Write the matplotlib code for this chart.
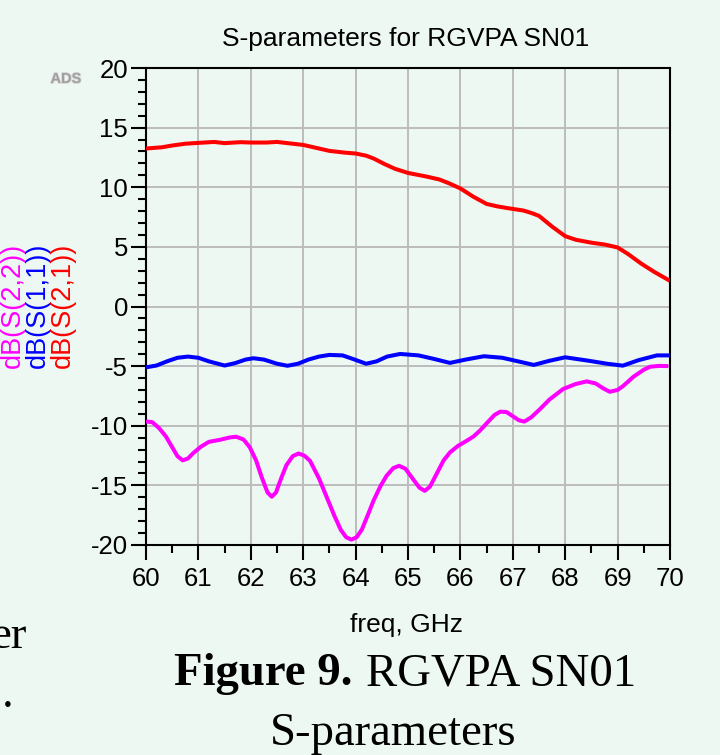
import matplotlib
matplotlib.use("Agg")
import matplotlib.pyplot as plt
from matplotlib.ticker import MultipleLocator
import matplotlib.patheffects as pe

plt.rcParams['axes.unicode_minus'] = False
plt.rcParams['font.family'] = ['Liberation Sans', 'DejaVu Sans']

# ---- data ----
f_s21 = [60.0, 60.3, 60.5, 60.75, 61.0, 61.3, 61.5, 61.8, 62.0, 62.3, 62.5, 62.8, 63.0, 63.2,
         63.5, 63.8, 64.0, 64.2, 64.35, 64.55, 64.75, 65.0, 65.35, 65.6, 65.8, 66.0, 66.25,
         66.5, 66.7, 66.9, 67.2, 67.35, 67.5, 67.75, 68.0, 68.2, 68.5, 68.75, 69.0, 69.2,
         69.45, 69.7, 70.0]
s21 = [13.25, 13.35, 13.5, 13.65, 13.72, 13.8, 13.7, 13.78, 13.75, 13.75, 13.8, 13.65, 13.55,
       13.35, 13.05, 12.9, 12.83, 12.65, 12.4, 11.95, 11.55, 11.2, 10.9, 10.65, 10.3, 9.9, 9.2,
       8.6, 8.4, 8.25, 8.05, 7.85, 7.6, 6.7, 5.9, 5.6, 5.35, 5.2, 4.95, 4.4,
       3.6, 2.9, 2.15]

f_s11 = [60.0, 60.2, 60.4, 60.6, 60.8, 61.0, 61.2, 61.5, 61.7, 61.9, 62.05, 62.25, 62.5, 62.7,
         62.9, 63.1, 63.3, 63.5, 63.75, 63.95, 64.2, 64.4, 64.6, 64.85, 65.2, 65.5, 65.8, 66.1,
         66.45, 66.8, 67.1, 67.4, 67.7, 68.0, 68.45, 68.8, 69.1, 69.4, 69.75, 70.0]
s11 = [-5.1, -4.95, -4.6, -4.3, -4.2, -4.3, -4.6, -4.95, -4.75, -4.45, -4.34, -4.45, -4.8, -4.97,
       -4.8, -4.45, -4.2, -4.06, -4.1, -4.4, -4.8, -4.6, -4.2, -3.98, -4.1, -4.4, -4.73, -4.45,
       -4.17, -4.3, -4.6, -4.9, -4.55, -4.26, -4.55, -4.8, -4.96, -4.5, -4.1, -4.1]

f_s22 = [60.0, 60.12, 60.25, 60.38, 60.5, 60.6, 60.7, 60.8, 60.9, 61.05, 61.2, 61.41, 61.6, 61.72,
         61.86, 61.98, 62.1, 62.21, 62.32, 62.4, 62.48, 62.58, 62.68, 62.8, 62.91, 63.02, 63.13,
         63.3, 63.45, 63.6, 63.72, 63.82, 63.92, 64.02, 64.12, 64.25, 64.34, 64.47, 64.59, 64.72,
         64.83, 64.95, 65.1, 65.22, 65.32, 65.42, 65.55, 65.68, 65.8, 65.95, 66.12, 66.25, 66.37,
         66.5, 66.65, 66.76, 66.88, 67.0, 67.12, 67.22, 67.35, 67.52, 67.7, 67.96, 68.2, 68.41,
         68.58, 68.72, 68.85, 69.0, 69.11, 69.3, 69.5, 69.62, 69.8, 69.97]
s22 = [-9.64, -9.7, -10.2, -10.9, -11.8, -12.55, -12.9, -12.75, -12.3, -11.75, -11.35, -11.18,
       -10.98, -10.92, -11.15, -11.8, -12.9, -14.34, -15.6, -15.95, -15.6, -14.4, -13.3, -12.55,
       -12.33, -12.5, -12.94, -14.4, -16.0, -17.6, -18.75, -19.35, -19.55, -19.35, -18.7, -17.3,
       -16.3, -15.1, -14.2, -13.55, -13.36, -13.6, -14.5, -15.2, -15.46, -15.1, -14.0, -12.9,
       -12.24, -11.7, -11.26, -10.9, -10.42, -9.8, -9.1, -8.82, -8.85, -9.2, -9.55, -9.65, -9.3,
       -8.6, -7.8, -6.92, -6.5, -6.28, -6.45, -6.85, -7.15, -7.0, -6.65, -5.9, -5.3, -5.05,
       -4.98, -5.0]

x_ticks = [60, 61, 62, 63, 64, 65, 66, 67, 68, 69, 70]
y_ticks = [-20, -15, -10, -5, 0, 5, 10, 15, 20]

BG = '#eef8f3'
W, H = 720, 755

fig = plt.figure(figsize=(W / 100, H / 100), dpi=100, facecolor=BG)
ax = fig.add_axes([146 / W, 1 - 545 / H, 524 / W, 477 / H], facecolor=BG)

lw = 2.9
for fx, fy, c in [(f_s21, s21, '#ff0000'), (f_s11, s11, '#0000ff'), (f_s22, s22, '#ff00ff')]:
    ax.plot(fx, fy, color=c, lw=lw, solid_joinstyle='round', solid_capstyle='butt', zorder=3)

ax.set_xlim(60, 70)
ax.set_ylim(-20, 20)
ax.set_xticks(x_ticks)
ax.set_yticks(y_ticks)
ax.set_xticklabels([str(v) for v in x_ticks])
ax.set_yticklabels([str(v) for v in y_ticks])
ax.xaxis.set_minor_locator(MultipleLocator(0.5))
ax.yaxis.set_minor_locator(MultipleLocator(1))
ax.grid(True, which='major', color='#bcbcbc', lw=1.4, zorder=1)
ax.set_axisbelow(True)

for s in ax.spines.values():
    s.set_color('black')
    s.set_linewidth(1.5)

ax.tick_params(axis='both', which='major', direction='out', length=10.8, width=1.5,
               labelsize=18.5, colors='black')
ax.tick_params(axis='both', which='minor', direction='out', length=5.8, width=1.5)
ax.tick_params(axis='x', which='major', pad=5)
ax.tick_params(axis='y', which='major', pad=2)
ax.tick_params(top=False, right=False, which='both')

# title and axis label
fig.text(406 / W, 1 - 46 / H, 'S-parameters for RGVPA SN01', ha='center', va='baseline',
         fontsize=19)
fig.text(407 / W, 1 - 632 / H, 'freq, GHz', ha='center', va='baseline', fontsize=19)

# rotated y labels
for xc, lab, c in [(12.5, 'dB(S(2,2))', '#ff00ff'), (37.5, 'dB(S(1,1))', '#0000ff'),
                   (62.5, 'dB(S(2,1))', '#ff0000')]:
    fig.text(xc / W, 1 - 305 / H, lab, rotation=90, ha='center', va='center',
             fontsize=19.5, color=c)

# ADS watermark
fig.text(66 / W, 1 - 79 / H, 'ADS', ha='center', va='center', fontsize=10.5, fontweight='bold',
         color='#a0a0a0', path_effects=[pe.withStroke(linewidth=1.2, foreground='#d8d8d8')])

# caption
serif = ['Liberation Serif', 'DejaVu Serif']
fig.text(352 / W, 1 - 685 / H, 'Figure 9.', ha='right', va='baseline', fontsize=33.7,
         fontweight='bold', family=serif)
fig.text(366 / W, 1 - 685 / H, 'RGVPA SN01', ha='left', va='baseline', fontsize=33.7,
         family=serif)
fig.text(393 / W, 1 - 745 / H, 'S-parameters', ha='center', va='baseline', fontsize=33.7,
         family=serif)
fig.text(27 / W, 1 - 648 / H, 'er', ha='right', va='baseline', fontsize=33.7, family=serif)
fig.text(2 / W, 1 - 707 / H, '.', ha='left', va='baseline', fontsize=33.7, family=serif)

fig.savefig('out.png', dpi=100, facecolor=BG)
